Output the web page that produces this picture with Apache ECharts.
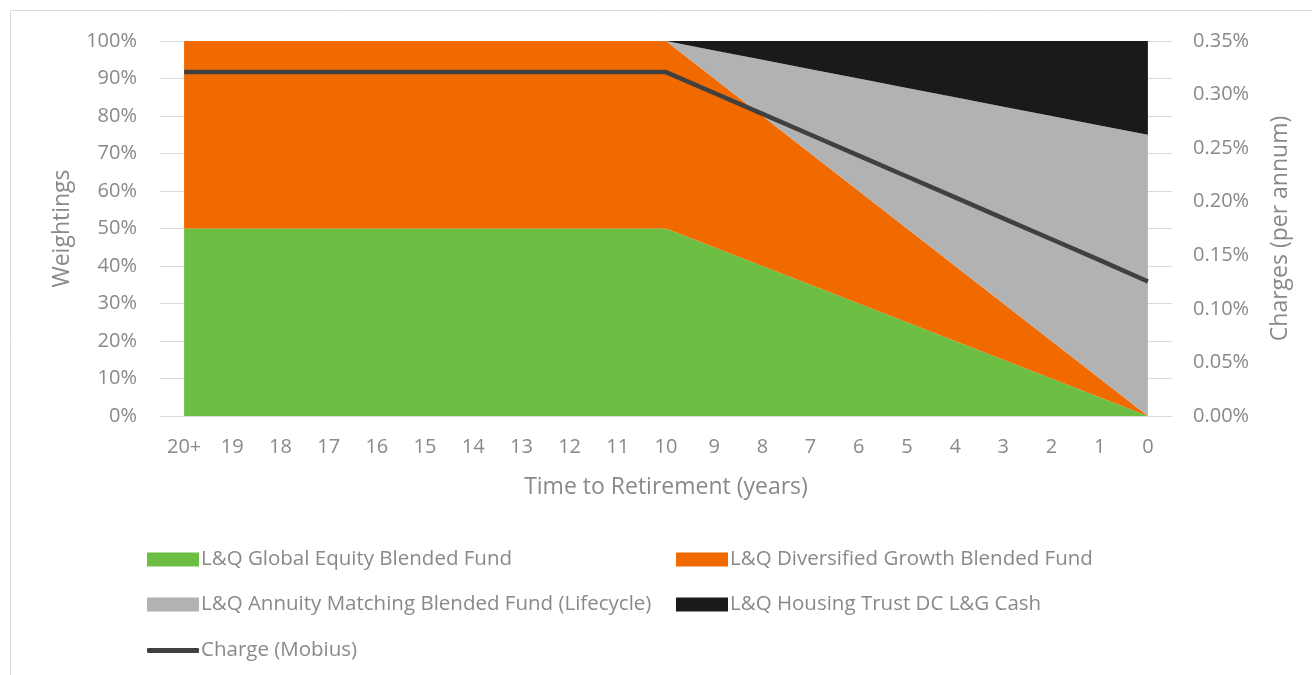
<!DOCTYPE html>
<html>
<head>
<meta charset="utf-8">
<script src="https://cdn.jsdelivr.net/npm/echarts@6/dist/echarts.min.js"></script>
<style>
html, body { margin: 0; padding: 0; background: #fff; }
#chart { width: 1312px; height: 675px; }
</style>
</head>
<body>
<div id="chart"></div>
<script>
// 横轴：距退休年数
const categories = ['20+', '19', '18', '17', '16', '15', '14', '13', '12', '11', '10', '9', '8', '7', '6', '5', '4', '3', '2', '1', '0'];

// 各基金权重 (%)
const globalEquity = [50, 50, 50, 50, 50, 50, 50, 50, 50, 50, 50, 45, 40, 35, 30, 25, 20, 15, 10, 5, 0];
const diversifiedGrowth = [50, 50, 50, 50, 50, 50, 50, 50, 50, 50, 50, 45, 40, 35, 30, 25, 20, 15, 10, 5, 0];
const annuityMatching = [0, 0, 0, 0, 0, 0, 0, 0, 0, 0, 0, 7.5, 15, 22.5, 30, 37.5, 45, 52.5, 60, 67.5, 75];
const housingCash = [0, 0, 0, 0, 0, 0, 0, 0, 0, 0, 0, 2.5, 5, 7.5, 10, 12.5, 15, 17.5, 20, 22.5, 25];

// 费用 (% per annum)
const charge = [0.321, 0.321, 0.321, 0.321, 0.321, 0.321, 0.321, 0.321, 0.321, 0.321, 0.321, 0.3015, 0.282, 0.2625, 0.243, 0.2235, 0.204, 0.1845, 0.165, 0.1455, 0.1255];

const names = [
    'L&Q Global Equity Blended Fund',
    'L&Q Diversified Growth Blended Fund',
    'L&Q Annuity Matching Blended Fund (Lifecycle)',
    'L&Q Housing Trust DC L&G Cash',
    'Charge (Mobius)'
];

const fontFamily = '"Open Sans", "DejaVu Sans", sans-serif';
const textGrey = '#898989';
const gridGrey = '#d9d9d9';

var chart = echarts.init(document.getElementById('chart'));

function areaSeries(name, data, color) {
    return {
        name: name,
        type: 'line',
        stack: 'w',
        data: data,
        symbol: 'none',
        lineStyle: {width: 0},
        itemStyle: {color: color},
        areaStyle: {color: color, opacity: 1},
        emphasis: {disabled: true}
    };
}

function legendAt(name, left, top, icon, h) {
    return {
        data: [name],
        left: left,
        top: top,
        icon: icon,
        itemWidth: 52,
        itemHeight: h,
        itemGap: 0,
        textStyle: {color: textGrey, fontSize: 20.5, fontFamily: fontFamily, padding: [0, 0, 0, -3]}
    };
}

let option = {
    animation: false,
    textStyle: {fontFamily: fontFamily},
    graphic: [{
        type: 'rect',
        shape: {x: 10.5, y: 10.5, width: 1320, height: 700},
        style: {fill: 'none', stroke: gridGrey, lineWidth: 1},
        silent: true
    }],
    grid: {
        left: 160,
        right: 140,
        top: 41,
        bottom: 259
    },
    legend: [
        legendAt(names[0], 142, 544, 'rect', 14),
        legendAt(names[1], 671, 544, 'rect', 14),
        legendAt(names[2], 142, 589, 'rect', 14),
        legendAt(names[3], 671, 589, 'rect', 14),
        legendAt(names[4], 142, 635, 'roundRect', 5)
    ],
    xAxis: {
        type: 'category',
        data: categories,
        boundaryGap: true,
        name: 'Time to Retirement (years)',
        nameLocation: 'middle',
        nameGap: 60,
        nameTextStyle: {color: textGrey, fontSize: 23},
        axisTick: {show: false},
        axisLine: {show: true, lineStyle: {color: gridGrey}},
        axisLabel: {color: textGrey, fontSize: 20, margin: 21, interval: 0}
    },
    yAxis: [
        {
            type: 'value',
            min: 0,
            max: 100,
            interval: 10,
            name: 'Weightings',
            nameLocation: 'middle',
            nameGap: 86,
            nameTextStyle: {color: textGrey, fontSize: 23},
            axisLabel: {color: textGrey, fontSize: 20, margin: 23, formatter: '{value}%'},
            axisLine: {show: false},
            axisTick: {show: false},
            splitLine: {show: true, lineStyle: {color: gridGrey, width: 1}}
        },
        {
            type: 'value',
            min: 0,
            max: 0.35,
            interval: 0.05,
            name: 'Charges (per annum)',
            nameLocation: 'middle',
            nameGap: 97,
            nameTextStyle: {color: textGrey, fontSize: 23},
            axisLabel: {
                color: textGrey, fontSize: 20, margin: 21,
                formatter: function (v) { return v.toFixed(2) + '%'; }
            },
            axisLine: {show: false},
            axisTick: {show: false},
            splitLine: {show: false}
        }
    ],
    series: [
        areaSeries(names[0], globalEquity, '#6cbf43'),
        areaSeries(names[1], diversifiedGrowth, '#f06a00'),
        areaSeries(names[2], annuityMatching, '#b2b2b2'),
        areaSeries(names[3], housingCash, '#1a1a1a'),
        {
            name: names[4],
            type: 'line',
            yAxisIndex: 1,
            data: charge,
            symbol: 'none',
            lineStyle: {color: '#404040', width: 4.5},
            itemStyle: {color: '#404040'},
            emphasis: {disabled: true},
            z: 5
        }
    ]
};

option && chart.setOption(option);
window.addEventListener('resize', () => {
    chart.resize();
});
</script>
</body>
</html>
